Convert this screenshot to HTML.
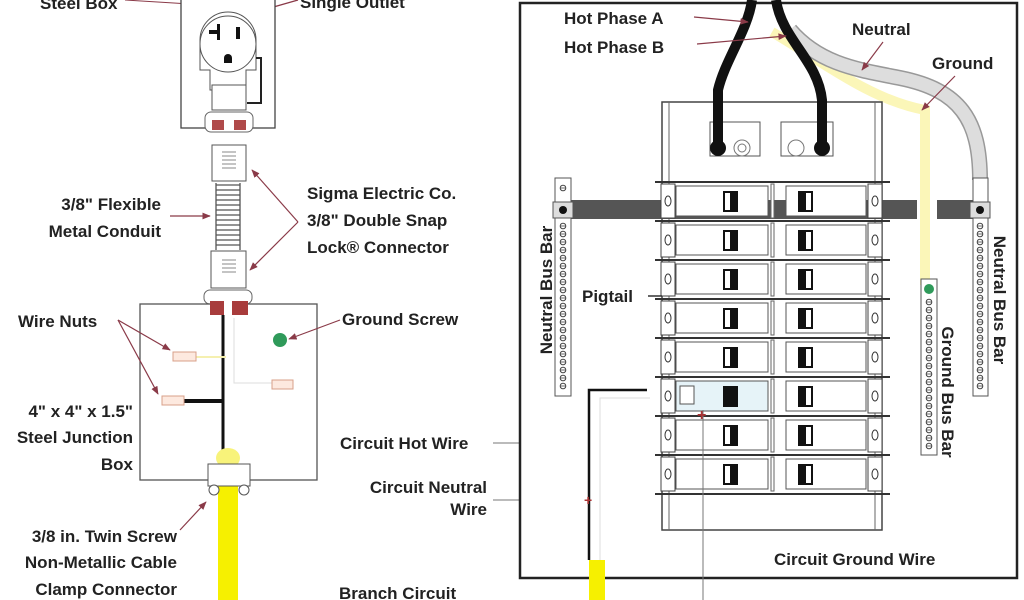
<!DOCTYPE html>
<html><head><meta charset="utf-8"><style>
html,body{margin:0;padding:0;background:#fff}
svg{display:block}
text{font-family:"Liberation Sans",sans-serif;font-weight:bold;font-size:17px;fill:#222}
.s{font-size:5px;font-weight:normal;fill:#333}
</style></head><body>
<svg width="1024" height="600" viewBox="0 0 1024 600" xmlns="http://www.w3.org/2000/svg">
<defs>
<marker id="ar" viewBox="0 0 10 10" refX="9" refY="5" markerWidth="7" markerHeight="7" orient="auto"><path d="M0,1 L10,5 L0,9z" fill="#8a3a48"/></marker>
<g id="row">
 <line x1="655" y1="0" x2="890" y2="0" stroke="#333" stroke-width="2"/>
 <rect x="661" y="2" width="14" height="34" fill="#fff" stroke="#444"/>
 <ellipse cx="668" cy="19" rx="3" ry="5" fill="none" stroke="#333"/>
 <rect x="676" y="4" width="92" height="30" fill="#fff" stroke="#555"/>
 <rect x="723" y="9" width="15" height="21" fill="#111"/>
 <rect x="725" y="11" width="5" height="17" fill="#fff"/>
 <rect x="771" y="2" width="3" height="34" fill="#fff" stroke="#666"/>
 <rect x="786" y="4" width="80" height="30" fill="#fff" stroke="#555"/>
 <rect x="798" y="9" width="15" height="21" fill="#111"/>
 <rect x="806" y="11" width="5" height="17" fill="#fff"/>
 <rect x="868" y="2" width="14" height="34" fill="#fff" stroke="#444"/>
 <ellipse cx="875" cy="19" rx="3" ry="5" fill="none" stroke="#333"/>
</g>
<g id="bus"><circle r="2.8" fill="none" stroke="#444" stroke-width="1"/><line x1="-3" y1="0" x2="3" y2="0" stroke="#444" stroke-width="0.8"/></g>
</defs>

<!-- LEFT SIDE -->
<text x="40" y="9">Steel Box</text>
<text x="300" y="8">Single Outlet</text>
<line x1="125" y1="0" x2="190" y2="4" stroke="#8a3a48" stroke-width="1"/>
<line x1="298" y1="0" x2="256" y2="12" stroke="#8a3a48" stroke-width="1.3" marker-end="url(#ar)"/>
<!-- outlet box -->
<rect x="181" y="-2" width="94" height="130" fill="#fff" stroke="#444" stroke-width="1.3"/>
<path d="M200,40 a28,28 0 0 1 56,0 v30 h-10 v20 h-36 v-20 h-10z" fill="#fff" stroke="#555"/>
<circle cx="228" cy="44" r="28" fill="#fff" stroke="#555"/>
<path d="M209,30 h8 v-6 h3 v16 h-3 v-6 h-8z" fill="#111"/>
<rect x="236" y="27" width="4" height="12" fill="#111"/>
<path d="M224,58 a4,4 0 0 1 8,0 v5 h-8z" fill="#111"/>
<path d="M256,58 h5 v45 h-14" fill="none" stroke="#222" stroke-width="2"/>
<rect x="212" y="85" width="34" height="25" fill="#fff" stroke="#555"/>
<rect x="205" y="112" width="48" height="20" rx="6" fill="#fff" stroke="#666"/>
<rect x="212" y="120" width="12" height="10" fill="#b04a4a"/><rect x="234" y="120" width="12" height="10" fill="#b04a4a"/>
<rect x="212" y="145" width="34" height="36" fill="#fff" stroke="#555"/>
<g stroke="#888" stroke-width="1"><line x1="222" y1="152" x2="236" y2="152"/><line x1="222" y1="156" x2="236" y2="156"/><line x1="222" y1="160" x2="236" y2="160"/><line x1="222" y1="164" x2="236" y2="164"/><line x1="222" y1="168" x2="236" y2="168"/></g>
<!-- conduit coil -->
<g fill="none" stroke="#555" stroke-width="1.3">
<path d="M216,185 h24 M216,190 h24 M216,195 h24 M216,200 h24 M216,205 h24 M216,210 h24 M216,215 h24 M216,220 h24 M216,225 h24 M216,230 h24 M216,235 h24 M216,240 h24 M216,245 h24"/>
<path d="M216,183 v67 M240,183 v67"/>
</g>
<rect x="211" y="251" width="35" height="37" fill="#fff" stroke="#555"/>
<g stroke="#888"><line x1="222" y1="260" x2="236" y2="260"/><line x1="222" y1="264" x2="236" y2="264"/><line x1="222" y1="268" x2="236" y2="268"/><line x1="222" y1="272" x2="236" y2="272"/></g>
<rect x="204" y="290" width="48" height="14" rx="6" fill="#fff" stroke="#666"/>
<text x="161" y="210" text-anchor="end">3/8" Flexible</text>
<text x="161" y="237" text-anchor="end">Metal Conduit</text>
<line x1="170" y1="216" x2="210" y2="216" stroke="#8a3a48" stroke-width="1.2" marker-end="url(#ar)"/>
<text x="307" y="199">Sigma Electric Co.</text>
<text x="307" y="226">3/8" Double Snap</text>
<text x="307" y="253">Lock® Connector</text>
<line x1="298" y1="222" x2="252" y2="170" stroke="#8a3a48" stroke-width="1.2" marker-end="url(#ar)"/>
<line x1="298" y1="222" x2="250" y2="270" stroke="#8a3a48" stroke-width="1.2" marker-end="url(#ar)"/>
<!-- junction box -->
<rect x="140" y="304" width="177" height="176" fill="#fff" stroke="#555" stroke-width="1.3"/>
<rect x="210" y="301" width="38" height="14" fill="#a83c3c"/><rect x="224" y="301" width="8" height="14" fill="#fff"/>
<line x1="223" y1="315" x2="223" y2="455" stroke="#111" stroke-width="3"/>
<line x1="183" y1="401" x2="223" y2="401" stroke="#111" stroke-width="4"/>
<path d="M234,318 V383 H272" fill="none" stroke="#ddd" stroke-width="1"/>
<line x1="196" y1="357" x2="226" y2="357" stroke="#f5f0b0" stroke-width="2"/>
<rect x="173" y="352" width="23" height="9" fill="#fde9df" stroke="#d8a08a"/>
<rect x="162" y="396" width="22" height="9" fill="#fde9df" stroke="#d8a08a"/>
<rect x="272" y="380" width="21" height="9" fill="#fde9df" stroke="#d8a08a"/>
<circle cx="280" cy="340" r="7" fill="#2f9a5a"/>
<text x="18" y="327">Wire Nuts</text>
<line x1="118" y1="320" x2="170" y2="350" stroke="#8a3a48" stroke-width="1.2" marker-end="url(#ar)"/>
<line x1="118" y1="320" x2="158" y2="394" stroke="#8a3a48" stroke-width="1.2" marker-end="url(#ar)"/>
<text x="342" y="325">Ground Screw</text>
<line x1="340" y1="320" x2="289" y2="339" stroke="#8a3a48" stroke-width="1.2" marker-end="url(#ar)"/>
<text x="133" y="417" text-anchor="end">4" x 4" x 1.5"</text>
<text x="133" y="443" text-anchor="end">Steel Junction</text>
<text x="133" y="470" text-anchor="end">Box</text>
<!-- yellow cable -->
<rect x="218" y="458" width="20" height="142" fill="#f6f000"/>
<ellipse cx="228" cy="458" rx="12" ry="10" fill="#f8f37a"/>
<rect x="208" y="464" width="42" height="22" fill="#fff" stroke="#555"/>
<circle cx="214" cy="490" r="5" fill="#fff" stroke="#555"/><circle cx="244" cy="490" r="5" fill="#fff" stroke="#555"/>
<text x="177" y="542" text-anchor="end">3/8 in. Twin Screw</text>
<text x="177" y="568" text-anchor="end">Non-Metallic Cable</text>
<text x="177" y="595" text-anchor="end">Clamp Connector</text>
<line x1="180" y1="530" x2="206" y2="502" stroke="#8a3a48" stroke-width="1.2" marker-end="url(#ar)"/>
<text x="340" y="449">Circuit Hot Wire</text>
<text x="487" y="493" text-anchor="end">Circuit Neutral</text>
<text x="487" y="515" text-anchor="end">Wire</text>
<text x="339" y="599">Branch Circuit</text>
<line x1="493" y1="443" x2="585" y2="443" stroke="#777" stroke-width="1" marker-end="url(#ar)"/>
<line x1="493" y1="500" x2="592" y2="500" stroke="#777" stroke-width="1"/>

<!-- RIGHT PANEL -->
<rect x="520" y="3" width="497" height="575" fill="#fff" stroke="#222" stroke-width="2.5"/>
<!-- yellow neutral glow -->
<path d="M772,32 C820,60 870,100 925,110 V285" fill="none" stroke="#fbf6b8" stroke-width="10"/>
<!-- gray ground cable -->
<path d="M790,30 C820,65 860,70 900,78 C960,90 980,120 980,180" fill="none" stroke="#999" stroke-width="16"/>
<path d="M790,30 C820,65 860,70 900,78 C960,90 980,120 980,180" fill="none" stroke="#ddd" stroke-width="13"/>
<!-- breaker frame -->
<rect x="662" y="102" width="220" height="428" fill="#fff" stroke="#444" stroke-width="1.5"/>
<line x1="669" y1="102" x2="669" y2="530" stroke="#666"/><line x1="875" y1="102" x2="875" y2="530" stroke="#666"/>
<!-- lugs -->
<rect x="710" y="122" width="50" height="34" fill="#fff" stroke="#555"/>
<circle cx="718" cy="148" r="8" fill="#111"/><circle cx="742" cy="148" r="8" fill="none" stroke="#777"/><circle cx="742" cy="148" r="4" fill="none" stroke="#777"/>
<rect x="781" y="122" width="52" height="34" fill="#fff" stroke="#555"/>
<circle cx="796" cy="148" r="8" fill="none" stroke="#777"/><circle cx="822" cy="148" r="8" fill="#111"/>
<!-- black hot wires -->
<path d="M752,0 C748,30 725,60 718,90 L718,142" fill="none" stroke="#111" stroke-width="10"/>
<path d="M776,0 C782,40 818,60 822,100 L822,142" fill="none" stroke="#111" stroke-width="10"/>
<!-- neutral horizontal bar -->
<rect x="560" y="200" width="357" height="19" fill="#555"/>
<rect x="937" y="200" width="45" height="19" fill="#555"/>
<!-- breaker rows -->
<use href="#row" y="182"/><use href="#row" y="221"/><use href="#row" y="260"/><use href="#row" y="299"/>
<use href="#row" y="338"/><use href="#row" y="377"/><use href="#row" y="416"/><use href="#row" y="455"/>
<line x1="655" y1="494" x2="890" y2="494" stroke="#333" stroke-width="2"/>
<rect x="676" y="381" width="92" height="30" fill="#e6f3f8" stroke="#555"/>
<rect x="723" y="386" width="15" height="21" fill="#111"/>
<rect x="680" y="386" width="14" height="18" fill="#fff" stroke="#555"/>
<!-- neutral bus bars -->
<rect x="555" y="178" width="16" height="218" fill="#fff" stroke="#555"/>
<rect x="553" y="202" width="20" height="16" fill="#ddd" stroke="#555"/><circle cx="563" cy="210" r="4" fill="#111"/>
<rect x="973" y="178" width="15" height="218" fill="#fff" stroke="#555"/>
<rect x="970" y="202" width="20" height="16" fill="#ddd" stroke="#555"/><circle cx="980" cy="210" r="4" fill="#111"/>
<rect x="921" y="279" width="16" height="176" fill="#fff" stroke="#555"/>
<circle cx="929" cy="289" r="5" fill="#2f9a5a"/>
<g>
<use href="#bus" x="563" y="188"/><use href="#bus" x="563" y="226"/><use href="#bus" x="563" y="234"/><use href="#bus" x="563" y="242"/><use href="#bus" x="563" y="250"/><use href="#bus" x="563" y="258"/><use href="#bus" x="563" y="266"/><use href="#bus" x="563" y="274"/><use href="#bus" x="563" y="282"/><use href="#bus" x="563" y="290"/><use href="#bus" x="563" y="298"/><use href="#bus" x="563" y="306"/><use href="#bus" x="563" y="314"/><use href="#bus" x="563" y="322"/><use href="#bus" x="563" y="330"/><use href="#bus" x="563" y="338"/><use href="#bus" x="563" y="346"/><use href="#bus" x="563" y="354"/><use href="#bus" x="563" y="362"/><use href="#bus" x="563" y="370"/><use href="#bus" x="563" y="378"/><use href="#bus" x="563" y="386"/>
<use href="#bus" x="980" y="226"/><use href="#bus" x="980" y="234"/><use href="#bus" x="980" y="242"/><use href="#bus" x="980" y="250"/><use href="#bus" x="980" y="258"/><use href="#bus" x="980" y="266"/><use href="#bus" x="980" y="274"/><use href="#bus" x="980" y="282"/><use href="#bus" x="980" y="290"/><use href="#bus" x="980" y="298"/><use href="#bus" x="980" y="306"/><use href="#bus" x="980" y="314"/><use href="#bus" x="980" y="322"/><use href="#bus" x="980" y="330"/><use href="#bus" x="980" y="338"/><use href="#bus" x="980" y="346"/><use href="#bus" x="980" y="354"/><use href="#bus" x="980" y="362"/><use href="#bus" x="980" y="370"/><use href="#bus" x="980" y="378"/><use href="#bus" x="980" y="386"/>
<use href="#bus" x="929" y="302"/><use href="#bus" x="929" y="310"/><use href="#bus" x="929" y="318"/><use href="#bus" x="929" y="326"/><use href="#bus" x="929" y="334"/><use href="#bus" x="929" y="342"/><use href="#bus" x="929" y="350"/><use href="#bus" x="929" y="358"/><use href="#bus" x="929" y="366"/><use href="#bus" x="929" y="374"/><use href="#bus" x="929" y="382"/><use href="#bus" x="929" y="390"/><use href="#bus" x="929" y="398"/><use href="#bus" x="929" y="406"/><use href="#bus" x="929" y="414"/><use href="#bus" x="929" y="422"/><use href="#bus" x="929" y="430"/><use href="#bus" x="929" y="438"/><use href="#bus" x="929" y="446"/>
</g>
<!-- circuit wires -->
<path d="M647,390 H589 V560" fill="none" stroke="#111" stroke-width="2.5"/>
<path d="M650,398 H600 V560" fill="none" stroke="#ddd" stroke-width="1"/>
<line x1="703" y1="410" x2="703" y2="600" stroke="#777" stroke-width="1"/>
<text x="697" y="420" fill="#a33" style="fill:#a33;font-size:16px">+</text>
<text x="584" y="505" style="fill:#a33;font-size:14px">+</text>
<rect x="589" y="560" width="16" height="40" fill="#f6f000"/>
<!-- labels -->
<text x="564" y="24">Hot Phase A</text>
<text x="564" y="53">Hot Phase B</text>
<line x1="694" y1="17" x2="748" y2="22" stroke="#8a3a48" stroke-width="1.2" marker-end="url(#ar)"/>
<line x1="697" y1="44" x2="786" y2="36" stroke="#8a3a48" stroke-width="1.2" marker-end="url(#ar)"/>
<text x="852" y="35">Neutral</text>
<line x1="883" y1="42" x2="862" y2="70" stroke="#8a3a48" stroke-width="1.2" marker-end="url(#ar)"/>
<text x="932" y="69">Ground</text>
<line x1="955" y1="76" x2="922" y2="110" stroke="#8a3a48" stroke-width="1.2" marker-end="url(#ar)"/>
<text x="582" y="302">Pigtail</text>
<line x1="648" y1="296" x2="662" y2="296" stroke="#333" stroke-width="1.5"/>
<text x="774" y="565">Circuit Ground Wire</text>
<text transform="translate(552,290) rotate(-90)" text-anchor="middle">Neutral Bus Bar</text>
<text transform="translate(994,300) rotate(90)" text-anchor="middle">Neutral Bus Bar</text>
<text transform="translate(942,392) rotate(90)" text-anchor="middle">Ground Bus Bar</text>
</svg>
</body></html>
